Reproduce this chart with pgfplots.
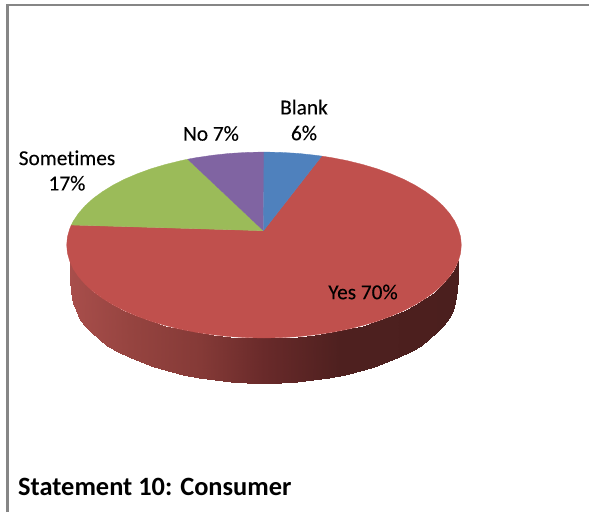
\documentclass[border=0pt]{standalone}
\usepackage{pgfplots}
\pgfplotsset{compat=1.18}
\usepackage{fontspec}
\setmainfont[Ligatures=NoCommon]{Carlito}
\newfontfamily\labelfont[Ligatures=NoCommon,FakeBold=0.15]{Carlito}
\definecolor{sliceBlank}{RGB}{79,129,189}
\definecolor{sliceYes}{RGB}{192,80,77}
\definecolor{sliceSome}{RGB}{155,187,89}
\definecolor{sliceNo}{RGB}{128,100,162}
\definecolor{frameGrey}{RGB}{134,134,134}
\begin{document}
\begin{tikzpicture}
\begin{axis}[
  hide axis, scale only axis, width=589pt, height=512pt,
  xmin=0, xmax=589, ymin=0, ymax=512, y dir=reverse,
  colormap={wall}{rgb255(70pt)=(168,78,75); rgb255(130pt)=(150,68,64);
    rgb255(200pt)=(133,58,55); rgb255(264pt)=(105,42,42);
    rgb255(340pt)=(78,32,31); rgb255(456pt)=(75,31,30)},
  point meta min=70, point meta max=456,
]
% Fixes the page to the full plotting area
\path (axis cs:0,0) rectangle (axis cs:589,512);
% Outer frame: top and left edges only
\addplot[frameGrey, line width=2.4pt, no markers] coordinates {(7.3,512) (7.3,5.2) (589,5.2)};
% Side wall of the disc, one column per rim step
\addplot[surf, shader=interp, mesh/cols=2, point meta=x] coordinates {
(69.7,261.1) (70,280)
(69.7,261.1) (71,292)
(69.7,261.1) (73.5,302.7)
(69.7,261.1) (75.9,310.3)
(73.4,269.1) (79.5,317.8)
(78.6,276.8) (84.5,325.1)
(85.2,284.3) (90.9,332.2)
(93.1,291.5) (98.6,339)
(102.4,298.3) (107.5,345.5)
(112.9,304.8) (117.7,351.6)
(124.5,310.8) (128.9,357.2)
(137.2,316.2) (141.2,362.4)
(150.8,321.2) (154.4,367.1)
(165.3,325.5) (168.5,371.2)
(180.6,329.3) (183.3,374.8)
(196.5,332.4) (198.7,377.7)
(212.9,334.8) (214.6,380)
(229.7,336.6) (230.8,381.7)
(246.8,337.6) (247.3,382.7)
(264,338) (264,383)
(281.2,337.6) (280.7,382.7)
(298.3,336.6) (297.2,381.7)
(315.1,334.8) (313.4,380)
(331.5,332.4) (329.3,377.7)
(347.4,329.3) (344.7,374.8)
(362.7,325.5) (359.5,371.2)
(377.2,321.2) (373.6,367.1)
(390.8,316.2) (386.8,362.4)
(403.5,310.8) (399.1,357.2)
(415.1,304.8) (410.3,351.6)
(425.6,298.3) (420.5,345.5)
(434.9,291.5) (429.4,339)
(442.8,284.3) (437.1,332.2)
(449.4,276.8) (443.5,325.1)
(454.6,269.1) (448.5,317.8)
(458.3,261.1) (452.5,310.3)
(458.3,261.1) (455,302.7)
(458.3,261.1) (456.7,290)
(458.3,261.1) (458,278)
};
% Yes 70%
\addplot[fill=sliceYes, draw=sliceYes, line width=0.3pt, no markers] coordinates {
(263.5,230.7) (71.3,225) (69.7,228.9) (67.4,236.9) (66.7,245) (67.4,253.1)
(69.7,261.1) (73.4,269.1) (78.6,276.8) (85.2,284.3) (93.1,291.5) (102.4,298.3)
(112.9,304.8) (124.5,310.8) (137.2,316.2) (150.8,321.2) (165.3,325.5) (180.6,329.3)
(196.5,332.4) (212.9,334.8) (229.7,336.6) (246.8,337.6) (264,338) (281.2,337.6)
(298.3,336.6) (315.1,334.8) (331.5,332.4) (347.4,329.3) (362.7,325.5) (377.2,321.2)
(390.8,316.2) (403.5,310.8) (415.1,304.8) (425.6,298.3) (434.9,291.5) (442.8,284.3)
(449.4,276.8) (454.6,269.1) (458.3,261.1) (460.6,253.1) (461.3,245) (460.6,236.9)
(458.3,228.9) (454.6,220.9) (449.4,213.2) (442.8,205.7) (434.9,198.5) (425.6,191.7)
(415.1,185.2) (403.5,179.2) (390.8,173.8) (377.2,168.8) (362.7,164.5) (347.4,160.7)
(331.5,157.6) (321.7,156.1) (263.5,230.7)
};
% Sometimes 17%
\addplot[fill=sliceSome, draw=sliceSome, line width=0.3pt, no markers] coordinates {
(263.5,230.7) (187.7,159.2) (180.6,160.7) (165.3,164.5) (150.8,168.8) (137.2,173.8)
(124.5,179.2) (112.9,185.2) (102.4,191.7) (93.1,198.5) (85.2,205.7) (78.6,213.2)
(73.4,220.9) (71.3,225) (263.5,230.7)
};
% No 7%
\addplot[fill=sliceNo, draw=sliceNo, line width=0.3pt, no markers] coordinates {
(263.5,230.7) (264,152) (246.8,152.4) (229.7,153.4) (212.9,155.2) (196.5,157.6)
(187.7,159.2) (263.5,230.7)
};
% Blank 6%
\addplot[fill=sliceBlank, draw=sliceBlank, line width=0.3pt, no markers] coordinates {
(263.5,230.7) (264,152) (281.2,152.4) (298.3,153.4) (315.1,155.2) (321.7,156.1)
(263.5,230.7)
};
% Slice labels and caption
\node[font=\labelfont\fontsize{21.3}{21.3}\selectfont, align=center, text=black] at (axis cs:304,120) {Blank\\[4.5pt]6\%};
\node[font=\labelfont\fontsize{21.3}{21.3}\selectfont, text=black] at (axis cs:211,133.5) {No 7\%};
\node[font=\labelfont\fontsize{21.3}{21.3}\selectfont, align=center, text=black] at (axis cs:67,170.5) {Sometimes\\[4pt]17\%};
\node[font=\labelfont\fontsize{21.3}{21.3}\selectfont, text=black] at (axis cs:363,292) {Yes 70\%};
\node[font=\bfseries\fontsize{26.4}{26.4}\selectfont, anchor=west, inner sep=0pt, text=black] at (axis cs:18,487) {Statement 10: Consumer};
\end{axis}
\end{tikzpicture}
\end{document}
